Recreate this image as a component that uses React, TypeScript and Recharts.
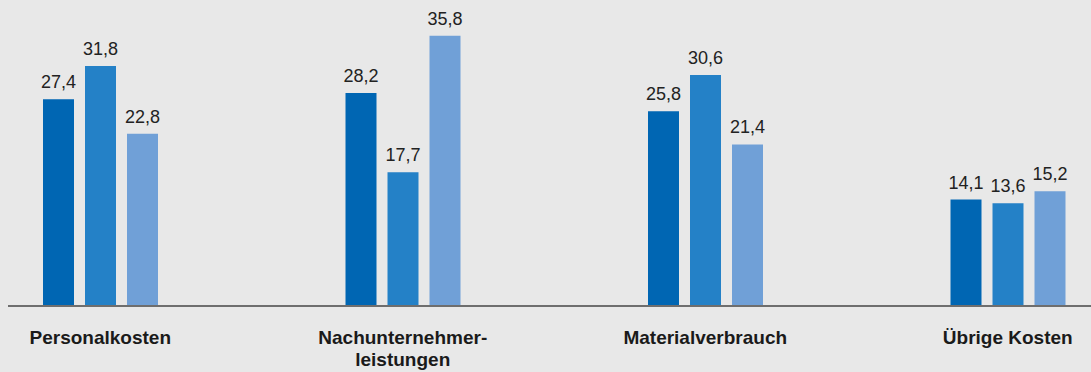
import { BarChart, Bar, XAxis, YAxis, LabelList } from "recharts";

const categories = ["Personalkosten", "Nachunternehmer-\nleistungen", "Materialverbrauch", "Übrige Kosten"];
const seriesA = [27.4, 28.2, 25.8, 14.1];
const seriesB = [31.8, 17.7, 30.6, 13.6];
const seriesC = [22.8, 35.8, 21.4, 15.2];

const COLORS = ["#0066b3", "#2481c7", "#70a0d7"];
const FONT = "'Liberation Sans', Arial, sans-serif";

const data = categories.map((name, i) => ({
  name,
  a: seriesA[i],
  b: seriesB[i],
  c: seriesC[i],
}));

const fmt = (v: any) => Number(v).toFixed(1).replace(".", ",");

function CategoryTick({ x, y, payload }: any) {
  const lines = String(payload.value).split("\n");
  return (
    <text x={x} y={y} textAnchor="middle" fill="#1a1a1a" fontFamily={FONT} fontSize={19} fontWeight="bold">
      {lines.map((line, i) => (
        <tspan key={i} x={x} dy={i === 0 ? 38 : 22}>
          {line}
        </tspan>
      ))}
    </text>
  );
}

export default function App() {
  const keys = ["a", "b", "c"];
  return (
    <div style={{ position: "fixed", left: 0, top: 0, width: 1091, height: 372, background: "#e8e8e8", overflow: "hidden" }}>
      <div style={{ position: "absolute", left: 8, top: 0, width: 1083, height: 372, overflow: "hidden" }}>
        <div style={{ position: "absolute", left: -59, top: 0 }}>
          <BarChart width={1210} height={372} data={data} margin={{ top: 4, right: 0, bottom: 0, left: 0 }} barSize={31} barGap={11}>
            <YAxis hide domain={[0, 40]} />
            <XAxis
              dataKey="name"
              height={66}
              interval={0}
              tickLine={false}
              tickSize={0}
              tickMargin={0}
              axisLine={{ stroke: "#6e6e6e", strokeWidth: 2 }}
              tick={<CategoryTick />}
            />
            {keys.map((k, i) => (
              <Bar key={k} dataKey={k} fill={COLORS[i]} isAnimationActive={false}>
                <LabelList
                  dataKey={k}
                  position="top"
                  offset={11}
                  formatter={fmt}
                  fill="#222"
                  fontSize={18}
                  fontFamily={FONT}
                />
              </Bar>
            ))}
          </BarChart>
        </div>
      </div>
    </div>
  );
}
